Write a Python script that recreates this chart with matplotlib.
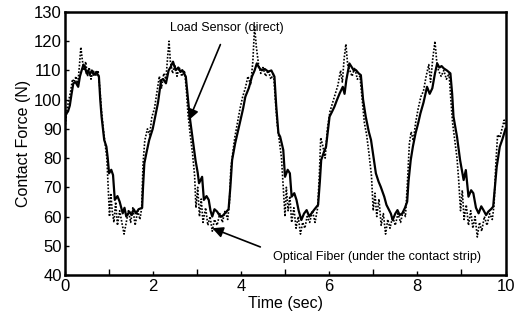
import matplotlib
matplotlib.use("Agg")
import matplotlib.pyplot as plt
from matplotlib.ticker import MultipleLocator

plt.rcParams['font.family'] = ['Liberation Sans', 'DejaVu Sans']

# Load sensor (direct) - solid trace
t_load = [0.00, 0.03, 0.08, 0.12, 0.16, 0.20, 0.25, 0.31, 0.35, 0.39, 0.43, 0.46, 0.50, 0.54, 0.57,
          0.62, 0.66, 0.72, 0.78, 0.81, 0.84, 0.90, 0.95, 0.98, 1.01, 1.06, 1.10, 1.14, 1.20, 1.25,
          1.32, 1.36, 1.40, 1.47, 1.52, 1.57, 1.62, 1.68, 1.76, 1.78, 1.81, 1.86, 1.92, 2.00, 2.07,
          2.12, 2.19, 2.24, 2.30, 2.36, 2.41, 2.46, 2.52, 2.58, 2.63, 2.67, 2.75, 2.80, 2.84, 2.90,
          2.97, 3.02, 3.05, 3.12, 3.16, 3.22, 3.27, 3.31, 3.35, 3.40, 3.46, 3.51, 3.57, 3.63, 3.72,
          3.76, 3.80, 3.87, 3.93, 3.99, 4.05, 4.10, 4.18, 4.25, 4.31, 4.36, 4.41, 4.47, 4.54, 4.62,
          4.69, 4.76, 4.80, 4.85, 4.89, 4.96, 5.00, 5.06, 5.11, 5.15, 5.21, 5.26, 5.31, 5.37, 5.43,
          5.49, 5.55, 5.60, 5.67, 5.75, 5.79, 5.82, 5.88, 5.93, 6.01, 6.07, 6.12, 6.18, 6.24, 6.31,
          6.35, 6.39, 6.46, 6.52, 6.56, 6.61, 6.67, 6.72, 6.77, 6.83, 6.90, 6.95, 7.01, 7.06, 7.12,
          7.17, 7.25, 7.30, 7.36, 7.40, 7.44, 7.50, 7.55, 7.60, 7.66, 7.72, 7.77, 7.80, 7.85, 7.90,
          7.96, 8.02, 8.07, 8.14, 8.22, 8.28, 8.34, 8.40, 8.45, 8.50, 8.55, 8.60, 8.67, 8.75, 8.79,
          8.82, 8.90, 8.97, 9.05, 9.10, 9.16, 9.22, 9.27, 9.33, 9.39, 9.45, 9.50, 9.56, 9.61, 9.67,
          9.72, 9.76, 9.80, 9.87, 9.93, 10.00]
f_load = [90, 95, 96, 98, 102, 105.6, 106, 104.4, 108, 110.1, 112, 111.3, 109, 110, 108.5,
          110, 108.5, 109.5, 107.9, 100, 94.2, 86.2, 83.9, 80, 74.8, 76, 74.2, 65.7, 67, 65.1,
          61.1, 63, 60, 61.7, 60.5, 62.5, 61.1, 62.5, 63, 70, 78.2, 82, 86.2, 90, 95.3,
          99, 106.7, 107, 105.6, 110, 111.3, 113, 110.1, 111, 109.5, 110.1, 107.9, 100, 94, 87.3,
          79.3, 75, 71.4, 73.6, 65.7, 67, 65.7, 62, 60, 62.5, 61.7, 60.5, 60, 61, 62.5,
          70, 79.3, 85.1, 89, 93, 97, 101, 104, 107.9, 110, 112.4, 111, 110.1, 110.5, 109.6,
          110, 107.9, 98, 88.5, 87.3, 82.8, 73.6, 76, 74.8, 66.8, 68, 65.7, 62, 58.8, 61,
          62.2, 60, 61.1, 62.5, 64, 72, 79.3, 82, 83.9, 94.2, 96, 97.6, 100, 102.2, 104.4,
          102, 106.7, 112.4, 111, 110, 110.1, 109, 108.4, 100, 94.2, 89, 86.2, 80, 74.8, 72,
          70.2, 66.8, 64, 62.2, 61, 58.8, 61, 62.2, 60.5, 61.1, 63, 65.1, 72, 79.3, 84,
          88.5, 92, 95.3, 99, 104.4, 102, 103.9, 109, 112.4, 111, 111.5, 110.7, 110, 109, 102,
          94.2, 87.3, 79.3, 72.5, 75.9, 66.8, 69, 68, 63, 61.1, 63.5, 62.2, 60.5, 61.7, 62.5,
          63.4, 70, 77, 83.9, 86.5, 90]

# Optical fiber (under the contact strip) - dotted trace
t_fib = [0.00, 0.03, 0.06, 0.10, 0.14, 0.18, 0.22, 0.26, 0.30, 0.34, 0.37, 0.40, 0.44, 0.48, 0.52,
         0.56, 0.60, 0.65, 0.70, 0.76, 0.80, 0.84, 0.88, 0.92, 0.96, 0.99, 1.02, 1.05, 1.08, 1.12,
         1.16, 1.20, 1.25, 1.30, 1.35, 1.40, 1.45, 1.50, 1.55, 1.60, 1.66, 1.71, 1.75, 1.78, 1.82,
         1.88, 1.93, 1.98, 2.04, 2.10, 2.15, 2.20, 2.25, 2.30, 2.34, 2.37, 2.40, 2.45, 2.50, 2.55,
         2.60, 2.66, 2.72, 2.76, 2.80, 2.85, 2.90, 2.95, 2.98, 3.02, 3.06, 3.10, 3.14, 3.20, 3.25,
         3.30, 3.35, 3.40, 3.46, 3.52, 3.58, 3.64, 3.70, 3.74, 3.77, 3.80, 3.86, 3.92, 3.98, 4.04,
         4.10, 4.16, 4.22, 4.27, 4.31, 4.35, 4.40, 4.45, 4.50, 4.56, 4.62, 4.68, 4.74, 4.78, 4.82,
         4.87, 4.92, 4.96, 5.00, 5.03, 5.07, 5.11, 5.15, 5.20, 5.25, 5.30, 5.35, 5.40, 5.45, 5.50,
         5.56, 5.62, 5.68, 5.74, 5.78, 5.81, 5.86, 5.91, 5.96, 6.02, 6.08, 6.14, 6.20, 6.26, 6.30,
         6.34, 6.38, 6.42, 6.47, 6.52, 6.58, 6.64, 6.70, 6.75, 6.80, 6.85, 6.90, 6.96, 7.00, 7.04,
         7.08, 7.13, 7.18, 7.23, 7.28, 7.33, 7.38, 7.44, 7.50, 7.56, 7.62, 7.68, 7.73, 7.77, 7.82,
         7.86, 7.91, 7.96, 8.02, 8.08, 8.14, 8.20, 8.26, 8.30, 8.35, 8.40, 8.44, 8.48, 8.54, 8.60,
         8.66, 8.72, 8.76, 8.80, 8.85, 8.90, 8.94, 8.98, 9.02, 9.06, 9.11, 9.16, 9.21, 9.26, 9.31,
         9.36, 9.41, 9.46, 9.52, 9.58, 9.64, 9.70, 9.74, 9.78, 9.82, 9.87, 9.92, 9.97, 10.00]
f_fib = [88, 93, 97, 100, 103, 107, 106, 108, 105, 112, 118, 114, 110, 113, 108,
         111, 107, 110, 108, 110, 104, 96, 90, 85, 80, 70, 60, 68, 62, 58,
         65, 57, 62, 58, 54, 58, 62, 58, 63, 57, 62, 59, 63, 78, 86,
         90, 88, 94, 97, 103, 108, 104, 109, 107, 115, 120, 113, 109, 112, 108,
         111, 108, 110, 104, 95, 88, 82, 74, 63, 70, 60, 66, 58, 63, 57,
         60, 55, 59, 57, 61, 58, 62, 59, 65, 76, 80, 87, 92, 97, 101,
         104, 108, 105, 113, 125, 118, 112, 109, 111, 108, 110, 107, 109, 100, 92,
         86, 80, 70, 60, 70, 62, 67, 58, 63, 56, 60, 54, 58, 56, 60,
         58, 62, 58, 63, 75, 87, 84, 80, 90, 96, 99, 102, 105, 110, 106,
         114, 119, 112, 110, 108, 111, 107, 108, 100, 92, 88, 82, 74, 62, 68,
         60, 66, 57, 61, 54, 59, 56, 60, 57, 61, 58, 62, 60, 70, 85,
         89, 86, 92, 97, 101, 103, 108, 112, 106, 114, 120, 113, 110, 108, 110,
         107, 109, 100, 92, 86, 80, 72, 62, 69, 59, 64, 57, 62, 56, 60,
         53, 58, 55, 60, 57, 61, 59, 64, 78, 88, 87, 90, 93, 91]

x_ticks = [0, 2, 4, 6, 8, 10]
y_ticks = [40, 50, 60, 70, 80, 90, 100, 110, 120, 130]

fig = plt.figure(figsize=(5.17, 3.22), dpi=100)
ax = fig.add_axes([0.1248, 0.146, 0.853, 0.8167])

ax.plot(t_fib, f_fib, color='black', linestyle=(0, (1, 1)), linewidth=1.2)
ax.plot(t_load, f_load, color='black', linestyle='-', linewidth=1.6)

ax.set_xlim(0, 10)
ax.set_ylim(40, 130)
ax.set_xticks(x_ticks)
ax.set_yticks(y_ticks)
ax.xaxis.set_minor_locator(MultipleLocator(1))
ax.tick_params(which='both', direction='in', labelsize=12, width=1)
ax.tick_params(which='major', length=3)
ax.tick_params(which='minor', length=4)
ax.tick_params(axis='x', pad=3)
ax.tick_params(axis='y', pad=2)
for s in ax.spines.values():
    s.set_linewidth(1.8)

ax.set_xlabel("Time (sec)", fontsize=11.5, labelpad=1)
ax.set_ylabel("Contact Force (N)", fontsize=11.5, labelpad=2)

# Annotations
ax.annotate("Load Sensor (direct)", xy=(2.82, 93), xytext=(3.69, 124.5),
            ha='center', va='center', fontsize=9,
            arrowprops=dict(arrowstyle='-|>', color='black', lw=1.2,
                            mutation_scale=16, shrinkA=6, shrinkB=0))
ax.annotate("Optical Fiber (under the contact strip)", xy=(3.35, 56), xytext=(7.08, 46.2),
            ha='center', va='center', fontsize=9)
ax.annotate("", xy=(3.35, 56), xytext=(4.44, 49.6),
            arrowprops=dict(arrowstyle='-|>', color='black', lw=1.2,
                            mutation_scale=16, shrinkA=0, shrinkB=0))

plt.savefig("out.png", dpi=100)
